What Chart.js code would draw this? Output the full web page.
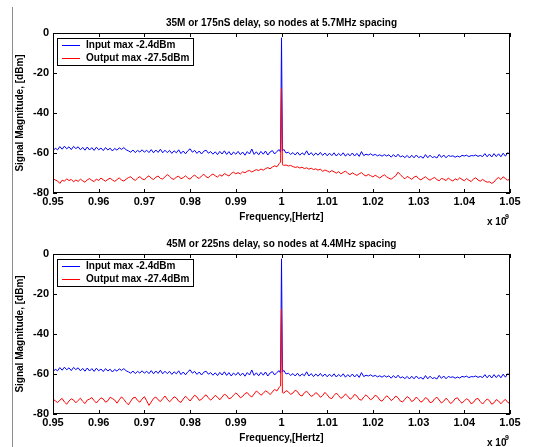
<!DOCTYPE html>
<html>
<head>
<meta charset="utf-8">
<script src="https://cdn.jsdelivr.net/npm/chart.js@4.4.1/dist/chart.umd.min.js"></script>
<style>
  body { margin: 0; background: #fff; width: 552px; height: 447px; overflow: hidden; position: relative; }
  .plot { position: absolute; left: 0; width: 552px; height: 228px; }
  #edge { position: absolute; left: 12px; top: 7px; width: 1px; height: 440px; background: #8c8c8c; }
</style>
</head>
<body>
<div id="edge"></div>
<div class="plot" style="top:0"><canvas id="top-chart" width="552" height="228"></canvas></div>
<div class="plot" style="top:221px"><canvas id="bottom-chart" width="552" height="228"></canvas></div>
<script>
// frequency grid in GHz (0.95 .. 1.05, 0.5 MHz bins), carrier sits at index 100
const freqStartGHz = 0.95;
const freqStepGHz = 0.0005;
const carrierGHz = 1.0;
const carrierIndex = 100;
const carrierSkirtGHz = 0.0002;   // fft bins right next to the carrier

// input spectrum, same for both plots
const inputDbm = [
  -58.9, -57.6, -58.4, -56.8, -58.1, -56.6, -57.9, -56.9, -58.3, -56.7, -57.8,
  -56.9, -58.4, -57.2, -58.6, -57.0, -58.5, -57.3, -58.7, -57.1, -58.4,
  -57.5, -58.8, -57.3, -58.5, -57.6, -59.0, -57.7, -58.6, -57.4, -58.2,
  -57.3, -58.4, -58.9, -59.6, -58.5, -59.8, -58.7, -59.5, -58.4, -59.6,
  -58.6, -59.8, -58.3, -59.9, -58.5, -59.7, -58.1, -59.9, -58.6, -59.8,
  -58.7, -60.2, -58.9, -59.9, -58.4, -60.3, -59.0, -60.4, -58.9, -57.9,
  -59.6, -58.7, -60.2, -59.0, -60.5, -59.1, -58.6, -60.1, -59.3, -60.6,
  -59.4, -60.8, -59.2, -60.5, -58.9, -60.7, -59.3, -61.0, -59.5, -60.6,
  -59.2, -60.8, -59.5, -61.1, -59.3, -60.5, -58.0, -60.7, -59.4, -60.9,
  -59.2, -60.6, -59.0, -61.0, -59.5, -58.8, -60.5, -59.2, -58.3,
  -2.4,
  -58.2, -60.0, -59.6, -60.7, -59.8, -61.0, -59.6, -61.1, -59.9, -60.9,
  -58.9, -61.0, -59.8, -61.3, -60.0, -61.1, -59.7, -61.2, -60.0, -61.4,
  -60.1, -61.3, -59.9, -61.5, -60.2, -61.3, -59.9, -61.6, -60.3, -61.4,
  -60.0, -61.5, -60.2, -61.7, -59.3, -61.3, -60.6, -61.0, -60.4, -61.2,
  -60.7, -61.4, -60.9, -61.6, -60.8, -61.5, -60.9, -62.1, -60.8, -62.0,
  -60.6, -62.0, -61.4, -62.3, -61.2, -62.5, -61.1, -62.4, -61.0, -62.3,
  -61.7, -62.6, -60.8, -62.4, -61.1, -62.3, -61.8, -62.5, -60.7, -62.2,
  -61.0, -62.4, -61.2, -61.7, -61.4, -62.1, -61.5, -62.0, -61.2, -61.5,
  -61.1, -61.8, -61.3, -61.4, -61.0, -61.7, -61.2, -61.8, -60.3, -61.9,
  -60.5, -62.0, -60.3, -61.8, -60.4, -61.9, -60.1, -61.6, -59.8, -60.8
];
const inputSkirtDbm = [-59.6, -59.0];

// output spectrum, 35M / 175nS delay
const output35Dbm = [
  -72.8, -73.5, -74.0, -75.2, -73.6, -74.1, -72.9, -73.8, -73.2, -74.4, -73.5,
  -74.2, -73.1, -73.9, -74.6, -73.4, -72.8, -73.7, -74.3, -73.0, -73.8,
  -72.5, -73.4, -74.1, -73.2, -72.6, -73.5, -74.2, -73.3, -72.4, -73.6,
  -74.0, -73.1, -72.3, -71.9, -73.0, -73.7, -72.6, -71.8, -72.9, -73.4,
  -72.2, -71.4, -72.6, -73.3, -72.1, -71.5, -72.7, -73.0, -71.9, -70.8,
  -71.7, -72.8, -73.2, -72.0, -71.6, -72.9, -72.3, -71.4, -72.5, -73.1,
  -71.8, -71.0, -72.2, -72.7, -71.5, -70.6, -71.9, -72.4, -71.2, -70.5,
  -71.4, -72.0, -70.9, -71.6, -70.3, -70.9, -71.5, -70.2, -69.6, -70.4,
  -69.8, -70.5, -69.4, -69.9, -69.1, -68.7, -69.5, -68.9, -68.3, -68.8,
  -68.0, -68.6, -67.8, -67.3, -67.9, -67.0, -66.4, -66.9, -65.3,
  -27.5,
  -66.2, -66.0, -66.5, -66.2, -66.8, -67.2, -66.9, -67.5, -67.1, -67.8,
  -67.4, -68.1, -67.6, -68.3, -67.9, -68.6, -68.0, -69.2, -68.5, -69.0,
  -69.6, -68.8, -69.4, -70.1, -69.3, -70.4, -69.7, -69.0, -70.2, -70.8,
  -69.9, -70.6, -71.2, -70.4, -69.8, -70.9, -71.5, -70.7, -71.3, -72.0,
  -71.1, -71.8, -72.5, -71.6, -70.9, -71.9, -72.6, -73.1, -72.2, -71.4,
  -69.6, -70.8, -72.0, -72.9, -71.7, -72.4, -73.2, -72.1, -71.5, -72.8,
  -73.4, -72.6, -71.9, -72.9, -73.6, -72.8, -72.2, -73.3, -73.9, -72.7,
  -73.1, -73.8, -72.5, -73.4, -74.0, -72.9, -73.5, -72.4, -73.2, -73.9,
  -72.8, -73.6, -74.3, -73.0, -72.4, -73.5, -74.1, -73.2, -74.0, -74.6,
  -74.4, -75.2, -74.5, -73.1, -72.2, -73.3, -71.9, -72.8, -73.6, -73.0
];
const output35SkirtDbm = [-64.5, -65.8];

// output spectrum, 45M / 225ns delay
const output45Dbm = [
  -72.6, -73.4, -74.3, -73.1, -72.2, -74.0, -75.1, -73.5, -72.4, -73.0, -74.4,
  -73.2, -72.1, -73.7, -74.8, -73.0, -72.6, -71.8, -73.3, -74.5, -73.1,
  -71.9, -72.5, -74.1, -73.4, -71.6, -72.3, -73.0, -74.6, -72.9, -71.4,
  -72.7, -74.2, -75.4, -73.6, -72.0, -71.6, -73.2, -74.1, -72.5, -71.3,
  -73.4, -75.7, -74.0, -72.2, -71.5, -72.9, -73.8, -72.4, -71.0, -72.6,
  -73.9, -72.8, -71.4, -72.0, -73.6, -74.2, -72.5, -71.1, -72.3, -73.5,
  -72.0, -70.6, -71.5, -73.2, -72.7, -71.3, -70.4, -71.9, -73.1, -72.0,
  -70.7, -71.6, -72.9, -71.5, -70.1, -70.8, -72.4, -71.9, -70.6, -69.5,
  -70.4, -71.9, -71.2, -69.8, -69.3, -70.7, -71.5, -70.0, -68.5, -69.4,
  -70.6, -69.7, -68.4, -69.1, -70.3, -69.0, -67.7, -68.5, -66.6,
  -27.4,
  -69.6, -68.3, -68.9, -70.2, -69.5, -68.1, -68.8, -70.5, -71.0, -69.4,
  -68.6, -69.9, -71.2, -70.6, -69.3, -70.1, -71.6, -70.8, -69.2, -70.4,
  -71.9, -72.3, -70.7, -69.5, -70.8, -72.2, -71.4, -70.0, -71.1, -72.6,
  -71.8, -70.2, -71.0, -72.7, -73.1, -71.5, -70.4, -71.6, -72.9, -72.1,
  -70.6, -71.3, -73.0, -73.6, -72.2, -70.9, -71.8, -73.3, -72.4, -71.0,
  -71.9, -73.5, -74.0, -72.6, -71.3, -72.1, -73.8, -73.0, -71.5, -72.7,
  -74.1, -73.3, -71.8, -72.5, -74.3, -74.0, -72.4, -71.6, -73.0, -74.5,
  -73.6, -72.1, -73.2, -74.8, -73.9, -72.3, -71.9, -73.5, -74.6, -73.4,
  -72.4, -73.1, -74.9, -74.2, -72.6, -72.2, -73.8, -75.0, -73.7, -72.5,
  -73.3, -75.1, -74.4, -72.8, -73.5, -74.9, -73.6, -72.7, -74.2, -74.7
];
const output45SkirtDbm = [-66.0, -69.2];

const xTickValues = [0.95, 0.96, 0.97, 0.98, 0.99, 1.0, 1.01, 1.02, 1.03, 1.04, 1.05];
const xTickLabels = ['0.95', '0.96', '0.97', '0.98', '0.99', '1', '1.01', '1.02', '1.03', '1.04', '1.05'];
const yTickValues = [-80, -60, -40, -20, 0];
const yTickLabels = ['-80', '-60', '-40', '-20', '0'];

// {x,y} points from the grid, with the two skirt bins either side of the carrier
function spectrumPoints(values, skirt) {
  const pts = values.map((v, i) => ({ x: freqStartGHz + i * freqStepGHz, y: v }));
  pts.splice(carrierIndex + 1, 0, { x: carrierGHz + carrierSkirtGHz, y: skirt[1] });
  pts.splice(carrierIndex, 0, { x: carrierGHz - carrierSkirtGHz, y: skirt[0] });
  return pts;
}

Chart.defaults.font.family = '"Liberation Sans", Arial, sans-serif';
Chart.defaults.font.weight = 'bold';
Chart.defaults.color = '#000';

// matlab-ish box, inward ticks, boxed legend and the x10^9 multiplier
const matlabAxes = {
  id: 'matlabAxes',
  afterDraw(chart) {
    const { ctx, chartArea: a, scales: { x, y } } = chart;
    ctx.save();
    ctx.strokeStyle = '#000';
    ctx.lineWidth = 1;
    ctx.strokeRect(a.left + 0.5, a.top + 0.5, a.width - 1, a.height - 1);
    ctx.beginPath();
    xTickValues.forEach(v => {
      const px = Math.round(x.getPixelForValue(v)) + 0.5;
      ctx.moveTo(px, a.bottom); ctx.lineTo(px, a.bottom - 4);
      ctx.moveTo(px, a.top); ctx.lineTo(px, a.top + 4);
    });
    yTickValues.forEach(v => {
      const py = Math.round(y.getPixelForValue(v)) + 0.5;
      ctx.moveTo(a.left, py); ctx.lineTo(a.left + 4, py);
      ctx.moveTo(a.right, py); ctx.lineTo(a.right - 4, py);
    });
    ctx.stroke();

    // legend
    const lx = a.left + 4, ly = a.top + 5;
    ctx.fillStyle = '#fff';
    ctx.fillRect(lx, ly, 136, 27);
    ctx.strokeRect(lx + 0.5, ly + 0.5, 136, 27);
    ctx.font = 'bold 10px "Liberation Sans", Arial, sans-serif';
    ctx.textBaseline = 'middle';
    ctx.textAlign = 'left';
    chart.data.datasets.forEach((ds, i) => {
      const ry = Math.round(ly + 7 + i * 13) + 0.5;
      ctx.strokeStyle = ds.borderColor;
      ctx.beginPath();
      ctx.moveTo(lx + 5, ry); ctx.lineTo(lx + 23, ry);
      ctx.stroke();
      ctx.fillStyle = '#000';
      ctx.fillText(ds.label, lx + 29, ry);
    });

    ctx.font = 'bold 10px "Liberation Sans", Arial, sans-serif';
    ctx.fillText('x 10', 487, 222);
    ctx.font = 'bold 7px "Liberation Sans", Arial, sans-serif';
    ctx.fillText('9', 505, 217);
    ctx.restore();
  }
};

function makeChart(canvasId, title, outputDbm, outputSkirt, inputLabel, outputLabel) {
  return new Chart(document.getElementById(canvasId), {
    type: 'line',
    data: {
      datasets: [{
        label: inputLabel,
        data: spectrumPoints(inputDbm, inputSkirtDbm),
        borderColor: '#0000ff',
        borderWidth: 1,
        pointRadius: 0,
        tension: 0,
        order: 2
      }, {
        label: outputLabel,
        data: spectrumPoints(outputDbm, outputSkirt),
        borderColor: '#ff0000',
        borderWidth: 1,
        pointRadius: 0,
        tension: 0,
        order: 1
      }]
    },
    options: {
      responsive: false,
      animation: false,
      layout: { padding: { left: 0, right: 42, top: 0, bottom: 0 } },
      plugins: {
        legend: { display: false },
        tooltip: { enabled: false },
        title: {
          display: true,
          text: title,
          fullSize: false,
          font: { size: 10, weight: 'bold' },
          padding: { top: 17, bottom: 4 }
        }
      },
      scales: {
        x: {
          type: 'linear',
          min: 0.95,
          max: 1.05,
          grid: { display: false, drawTicks: false },
          border: { display: false },
          afterBuildTicks: s => { s.ticks = xTickValues.map(v => ({ value: v })); },
          afterFit: s => { s.height = 35; },
          ticks: {
            font: { size: 11 },
            padding: 2,
            maxRotation: 0,
            callback: (v, i) => xTickLabels[i]
          },
          title: {
            display: true,
            text: 'Frequency,[Hertz]',
            font: { size: 10, weight: 'bold' },
            padding: { top: 0, bottom: 5 }
          }
        },
        y: {
          min: -80,
          max: 0,
          grid: { display: false, drawTicks: false },
          border: { display: false },
          afterBuildTicks: s => { s.ticks = yTickValues.map(v => ({ value: v })); },
          afterFit: s => { s.width = 53; },
          ticks: {
            font: { size: 11 },
            padding: 4,
            callback: (v, i) => yTickLabels[i]
          },
          title: {
            display: true,
            text: 'Signal Magnitude, [dBm]',
            font: { size: 10, weight: 'bold' },
            padding: { top: 14, bottom: 0 }
          }
        }
      }
    },
    plugins: [matlabAxes]
  });
}

makeChart('top-chart', '35M or 175nS delay, so nodes at 5.7MHz spacing', output35Dbm, output35SkirtDbm,
  'Input max -2.4dBm', 'Output max -27.5dBm');
makeChart('bottom-chart', '45M or 225ns delay, so nodes at 4.4MHz spacing', output45Dbm, output45SkirtDbm,
  'Input max -2.4dBm', 'Output max -27.4dBm');
</script>
</body>
</html>
